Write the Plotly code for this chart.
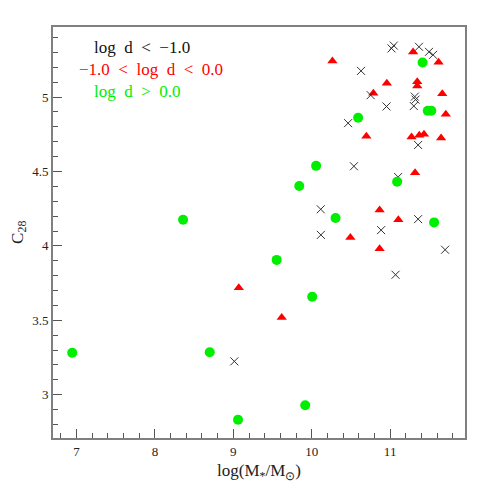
import plotly.graph_objects as go

# black crosses: log d < -1.0
x_black = [11.018, 11.047, 11.368, 11.496, 11.548, 10.629, 10.752, 11.315, 11.324, 11.302,
           10.954, 10.464, 11.357, 10.538, 11.102, 10.115, 10.117, 10.885, 11.357, 11.701,
           11.069, 9.013]
y_black = [5.327, 5.346, 5.338, 5.304, 5.284, 5.176, 5.013, 5.003, 4.983, 4.940,
           4.937, 4.825, 4.678, 4.535, 4.463, 4.246, 4.074, 4.106, 4.180, 3.974,
           3.806, 3.224]

# red triangles: -1.0 < log d < 0.0
x_red = [10.264, 11.293, 11.618, 10.958, 11.346, 11.346, 11.665, 10.786, 11.710, 10.697,
         11.273, 11.372, 11.432, 11.650, 11.318, 10.866, 11.105, 10.493, 10.866, 9.070,
         9.617]
y_red = [5.243, 5.303, 5.234, 5.093, 5.103, 5.075, 5.023, 5.026, 4.884, 4.737,
         4.732, 4.743, 4.750, 4.725, 4.492, 4.242, 4.176, 4.057, 3.981, 3.718,
         3.518]

# green circles: log d > 0.0
x_green = [11.414, 11.480, 11.525, 10.592, 10.056, 9.841, 11.089, 10.304, 11.561, 8.359,
           9.553, 10.006, 9.917, 9.060, 6.945, 8.699]
y_green = [5.232, 4.908, 4.908, 4.861, 4.538, 4.403, 4.431, 4.188, 4.158, 4.176,
           3.906, 3.658, 2.929, 2.832, 3.282, 3.285]

legend_labels = ["log\u2002d\u2002<\u2002\u22121.0",
                 "\u22121.0\u2002<\u2002log\u2002d\u2002<\u20020.0",
                 "log\u2002d\u2002>\u20020.0"]

RED = "#ff0000"
GREEN = "#00ee00"
BLACK = "#333333"
FONT = "Liberation Serif"

fig = go.Figure()
fig.add_trace(go.Scatter(x=x_red, y=y_red, mode="markers",
                         marker=dict(symbol="triangle-up", size=9, color=RED, line=dict(width=0))))
fig.add_trace(go.Scatter(x=x_black, y=y_black, mode="markers",
                         marker=dict(symbol="x-thin", size=8, color=BLACK,
                                     line=dict(width=1, color=BLACK))))
fig.add_trace(go.Scatter(x=x_green, y=y_green, mode="markers",
                         marker=dict(symbol="circle", size=10, color=GREEN, line=dict(width=0))))

ann_pos = [(0.0947, 0.9496), (0.0583, 0.8954), (0.0947, 0.8426)]
ann_col = ["#111111", RED, GREEN]
for (ax, ay), txt, c in zip(ann_pos, legend_labels, ann_col):
    fig.add_annotation(x=ax, y=ay, xref="paper", yref="paper", text=txt, showarrow=False,
                       xanchor="left", yanchor="middle",
                       font=dict(family=FONT, size=17, color=c))

# axis titles as annotations for exact placement
fig.add_annotation(x=0.5, y=-0.083, xref="paper", yref="paper",
                   text="log(M<sub>*</sub>/M<sub>\u2299</sub>)", showarrow=False,
                   xanchor="center", yanchor="middle",
                   font=dict(family=FONT, size=17, color="#222222"))
fig.add_annotation(x=-0.084, y=0.5, xref="paper", yref="paper",
                   text="C<sub>28</sub>", showarrow=False, textangle=-90,
                   xanchor="center", yanchor="middle",
                   font=dict(family=FONT, size=17, color="#222222"))

axis_common = dict(showgrid=False, zeroline=False, showline=True, linecolor="#808080",
                   linewidth=2, mirror=True, ticks="inside", tickcolor="#555555",
                   tickwidth=1, ticklen=9, automargin=False,
                   tickfont=dict(family=FONT, size=13, color="#222222"))

fig.update_xaxes(range=[6.70, 11.955], tickmode="array", tickvals=[7, 8, 9, 10, 11],
                 minor=dict(dtick=0.2, tick0=0, ticks="inside", ticklen=5,
                            tickcolor="#555555", tickwidth=1),
                 **axis_common)
fig.update_yaxes(range=[2.709, 5.471], tickmode="array", tickvals=[3, 3.5, 4, 4.5, 5],
                 ticktext=["3", "3.5", "4", "4.5", "5"],
                 minor=dict(dtick=0.1, tick0=0, ticks="inside", ticklen=5,
                            tickcolor="#555555", tickwidth=1),
                 **axis_common)

# the page body has an 8px margin, so the figure is drawn 8px smaller with shifted margins
fig.update_layout(width=483, height=483, margin=dict(l=45, r=26, t=19, b=53),
                  plot_bgcolor="white", paper_bgcolor="white", showlegend=False)

fig.write_html("out.html")
